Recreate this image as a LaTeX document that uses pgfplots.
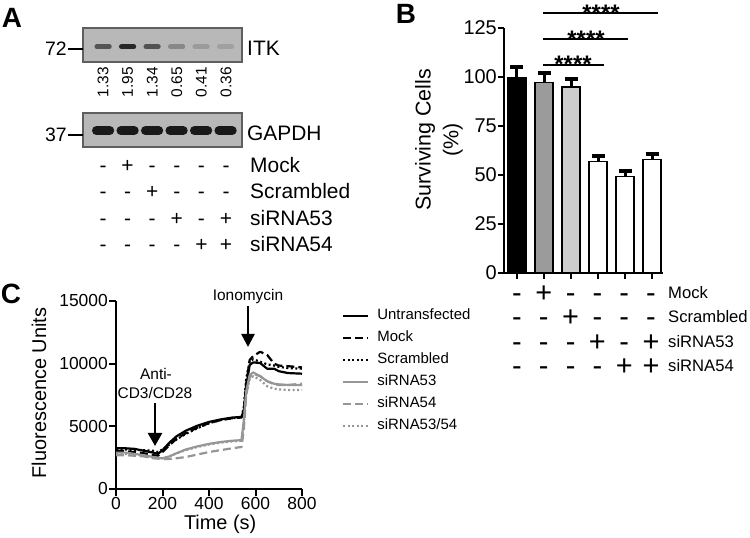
\documentclass[border=0pt]{standalone}
\usepackage{pgfplots}
\pgfplotsset{compat=1.18}
\usepackage{pgfplotstable}
\usepackage{fontspec}
\setmainfont{Liberation Sans}
\usetikzlibrary{arrows.meta}
\newcommand\fs[1]{\fontsize{#1}{#1}\selectfont}
\definecolor{lgray}{RGB}{150,150,150}
\definecolor{bartwo}{RGB}{155,155,155}
\definecolor{barthree}{RGB}{205,205,205}
\definecolor{blotbg}{RGB}{184,184,184}
\definecolor{blotedge}{RGB}{95,95,95}
% ITK band shades, darker for the higher quantified levels
\definecolor{itkA}{RGB}{84,84,84}   % 1.33
\definecolor{itkB}{RGB}{40,40,40}   % 1.95
\definecolor{itkC}{RGB}{82,82,82}   % 1.34
\definecolor{itkD}{RGB}{135,135,135}% 0.65
\definecolor{itkE}{RGB}{155,155,155}% 0.41
\definecolor{itkF}{RGB}{160,160,160}% 0.36

% calcium flux traces, panel C
\pgfplotstableread{
t   unt   mock  scr   s53   s54   s5354
0   3250  3050  3150  2900  2700  2800
40  3250  3000  3150  2900  2700  2800
80  3200  2950  3100  2800  2650  2750
120 3050  2850  3100  2700  2600  2650
160 2900  2700  3050  2550  2450  2500
180 2800  2650  2950  2500  2420  2480
200 3100  2950  3150  2450  2400  2450
230 3700  3500  3550  2600  2400  2600
260 4200  4000  3950  2850  2450  2850
300 4650  4450  4400  3150  2550  3100
350 5050  4900  4850  3400  2750  3350
400 5350  5250  5250  3600  2950  3550
450 5550  5500  5500  3750  3100  3700
500 5700  5650  5650  3850  3250  3800
540 5750  5700  5700  3900  3350  3850
550 6300  6200  6600  5500  4800  5400
560 8200  8400  8800  7800  7500  7600
575 9900  10300 10200 9100  8900  8800
590 10100 10600 10350 9300  9200  9000
620 10050 10950 10150 9000  9000  8700
650 9600  10700 9950  8600  8600  8200
680 9600  10000 9850  8400  8350  8000
700 9400  9850  9750  8350  8300  7950
740 9250  9800  9650  8300  8300  7900
800 9200  9700  9600  8300  8400  7900
}\calcium

\pgfplotsset{
  blot/.style={anchor=south west, scale only axis,
    width=159bp, height=34bp, xmin=-0.82, xmax=5.67, ymin=0, ymax=1,
    xtick=\empty, ytick=\empty,
    axis line style={draw=blotedge, line width=1.5bp},
    axis background/.style={fill=blotbg}},
  itkband/.style={line width=5bp, line cap=round, #1},
  gapband/.style={line width=9bp, line cap=round, black!90},
  % upper error bar only: thick stem and a heavy cap
  errb/.style={error bars/.cd, y dir=plus, y explicit,
    error bar style={line width=3bp, black},
    error mark options={rotate=90, line width=4bp, mark size=6.5bp, black}},
}

\begin{document}
\begin{tikzpicture}[x=1bp,y=1bp]
\useasboundingbox (0,0) rectangle (750,538);

% ---------------- panel A ----------------
\node[font=\fs{28}\bfseries] at (12,520) {A};

\begin{axis}[blot, at={(83bp,476bp)}]
\addplot[itkband=itkA] coordinates {(-0.25,0.45) (0.25,0.45)};
\addplot[itkband=itkB] coordinates {(0.75,0.45) (1.25,0.45)};
\addplot[itkband=itkC] coordinates {(1.75,0.45) (2.25,0.45)};
\addplot[itkband=itkD] coordinates {(2.75,0.45) (3.25,0.45)};
\addplot[itkband=itkE] coordinates {(3.75,0.45) (4.25,0.45)};
\addplot[itkband=itkF] coordinates {(4.75,0.45) (5.25,0.45)};
\end{axis}

\begin{axis}[blot, at={(83bp,391bp)}]
\addplot[gapband] coordinates {(-0.27,0.48) (0.27,0.48)};
\addplot[gapband] coordinates {(0.73,0.48) (1.27,0.48)};
\addplot[gapband] coordinates {(1.73,0.48) (2.27,0.48)};
\addplot[gapband] coordinates {(2.73,0.48) (3.27,0.48)};
\addplot[gapband] coordinates {(3.73,0.48) (4.27,0.48)};
\addplot[gapband] coordinates {(4.73,0.48) (5.27,0.48)};
\end{axis}

\draw[line width=1.5bp] (68,489) -- (83,489);
\draw[line width=1.5bp] (68,403) -- (83,403);
\node[font=\fs{19.5}, anchor=east, inner sep=0pt] at (67,489) {72};
\node[font=\fs{19.5}, anchor=east, inner sep=0pt] at (67,403) {37};
\node[font=\fs{21}, anchor=west, inner sep=0pt] at (247,490) {ITK};
\node[font=\fs{21}, anchor=west, inner sep=0pt] at (247,405) {GAPDH};

\foreach \q [count=\i from 0] in {1.33,1.95,1.34,0.65,0.41,0.36}
  \node[font=\fs{15.5}, rotate=90, inner sep=0pt] at ({103+24.6*\i},456) {\q};

\foreach \r/\yb/\lab/\s in {0/365/Mock/{-,+,-,-,-,-},
                           1/339/Scrambled/{-,-,+,-,-,-},
                           2/312/siRNA53/{-,-,-,+,-,+},
                           3/286/siRNA54/{-,-,-,-,+,+}} {
  \foreach \c [count=\i from 0] in \s
    \node[font=\fs{21}, anchor=base, inner sep=0pt] at ({103+24.6*\i},\yb) {\c};
  \node[font=\fs{21}, anchor=base west, inner sep=0pt] at (250,\yb) {\lab};
}

% ---------------- panel B ----------------
\node[font=\fs{28}\bfseries] at (406,524) {B};

\begin{axis}[at={(504bp,265bp)}, anchor=south west, scale only axis,
  width=159bp, height=245bp, xmin=-0.48, xmax=5.4, ymin=0, ymax=125,
  axis x line*=bottom, axis y line*=left,
  axis line style={line width=2bp},
  tick style={line width=2bp, black}, major tick length=6bp, tick align=outside,
  xtick={0,...,5}, xticklabels={},
  ytick={0,25,...,125},
  yticklabel style={font=\fs{20}, inner xsep=1bp},
  /pgf/number format/assume math mode=true,
  ylabel={Surviving Cells\\(\%)},
  ylabel style={font=\fontsize{21.5}{28}\selectfont, align=center,
    at={(axis description cs:-0.409,0.543)}, anchor=center},
  ybar, bar width=0.667, bar shift=0pt]
\addplot[fill=black, draw=black, line width=1.5bp, errb] coordinates {(0,99.7) +- (0,5.5)};
\addplot[fill=bartwo, draw=black, line width=1.5bp, errb] coordinates {(1,97.2) +- (0,4.8)};
\addplot[fill=barthree, draw=black, line width=1.5bp, errb] coordinates {(2,94.8) +- (0,4)};
\addplot[fill=white, draw=black, line width=1.5bp, errb] coordinates {(3,57) +- (0,2.8)};
\addplot[fill=white, draw=black, line width=1.5bp, errb] coordinates {(4,49.3) +- (0,2.5)};
\addplot[fill=white, draw=black, line width=1.5bp, errb] coordinates {(5,58) +- (0,2.9)};
\end{axis}

% significance bars
\draw[line width=1.8bp] (543,525) -- (658,525);
\draw[line width=1.8bp] (543,499) -- (628,499);
\draw[line width=1.8bp] (543,473) -- (604,473);
\node[font=\fs{24}\bfseries, anchor=base, inner sep=0pt] at (601,516) {****};
\node[font=\fs{24}\bfseries, anchor=base, inner sep=0pt] at (586,490) {****};
\node[font=\fs{24}\bfseries, anchor=base, inner sep=0pt] at (573,465) {****};

\foreach \r/\yb/\yl/\lab/\s in {0/235/239/Mock/{-,+,-,-,-,-},
                               1/211/215/Scrambled/{-,-,+,-,-,-},
                               2/186/190/siRNA53/{-,-,-,+,-,+},
                               3/162/166/siRNA54/{-,-,-,-,+,+}} {
  \foreach \c [count=\i from 0] in \s
    \node[font=\fs{29}, anchor=base, inner sep=0pt, text height=17bp, text depth=0bp]
      at ({517+26.8*\i},\yb) {\c};
  \node[font=\fs{16.7}, anchor=base west, inner sep=0pt] at (668,\yl) {\lab};
}

% ---------------- panel C ----------------
\node[font=\fs{28}\bfseries] at (11,244) {C};

\begin{axis}[at={(116bp,49bp)}, anchor=south west, scale only axis,
  width=186bp, height=188bp, xmin=0, xmax=800, ymin=0, ymax=15000,
  axis x line*=bottom, axis y line*=left,
  axis line style={line width=2bp},
  tick style={line width=2bp, black}, major tick length=7bp, tick align=outside,
  xtick={0,200,...,800}, ytick={0,5000,10000,15000},
  scaled y ticks=false,
  /pgf/number format/1000 sep={},
  /pgf/number format/assume math mode=true,
  ticklabel style={font=\fs{17.5}},
  yticklabel style={inner xsep=1bp},
  xticklabel style={inner ysep=1bp},
  xlabel={Time (s)},
  xlabel style={font=\fs{20}, at={(axis description cs:0.56,-0.218)}, anchor=base},
  ylabel={Fluorescence Units},
  ylabel style={font=\fs{20}, at={(axis description cs:-0.414,0.51)}, anchor=center},
  legend style={at={(axis description cs:1.215,0.959)}, anchor=north west,
    draw=none, fill=none, inner sep=0pt, row sep=8bp, font=\fs{15},
    nodes={inner sep=0pt, text height=10.5bp, text depth=3.5bp},
    /tikz/every odd column/.append style={column sep=8bp}},
  legend cell align=left,
  legend image code/.code={\draw[#1, line cap=butt] (0bp,0bp) -- (25bp,0bp);},
  line join=round]
\addplot[black, line width=2.2bp] table[x=t, y=unt] {\calcium};
\addlegendentry{Untransfected}
\addplot[black, line width=2.2bp, dash pattern=on 8bp off 4bp] table[x=t, y=mock] {\calcium};
\addlegendentry{Mock}
\addplot[black, line width=2.2bp, dash pattern=on 2bp off 2.5bp] table[x=t, y=scr] {\calcium};
\addlegendentry{Scrambled}
\addplot[lgray, line width=2.2bp] table[x=t, y=s53] {\calcium};
\addlegendentry{siRNA53}
\addplot[lgray, line width=2.2bp, dash pattern=on 8bp off 4bp] table[x=t, y=s54] {\calcium};
\addlegendentry{siRNA54}
\addplot[lgray, line width=2.2bp, dash pattern=on 2bp off 2.5bp] table[x=t, y=s5354] {\calcium};
\addlegendentry{siRNA53/54}
\end{axis}

% stimulation arrows
\node[font=\fs{15.5}, anchor=base, inner sep=0pt] at (156,158) {Anti-};
\node[font=\fs{15.5}, anchor=base, inner sep=0pt] at (155,139) {CD3/CD28};
\draw[line width=2.5bp, -{Triangle[width=14bp,length=13bp]}] (155,135) -- (155,92);
\node[font=\fs{15.5}, anchor=base, inner sep=0pt] at (248,237) {Ionomycin};
\draw[line width=2.5bp, -{Triangle[width=13bp,length=13bp]}] (248,232) -- (248,191);

\end{tikzpicture}
\end{document}
